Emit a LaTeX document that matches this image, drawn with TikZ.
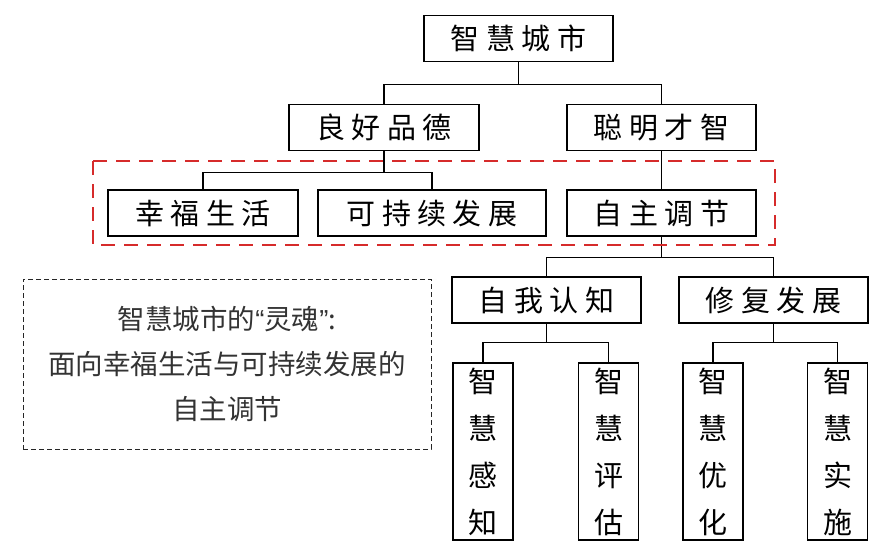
\documentclass[tikz,border=0pt]{standalone}
\usepackage{fontspec}
\usepackage{xcolor}
\usepackage{tikz}
\usetikzlibrary{
  arrows.meta,
  positioning,
  calc
}
\setmainfont{Noto Sans CJK SC}
\newfontfamily\boxfont[LetterSpace=22]{Noto Sans CJK SC}
\newfontfamily\quotefont{Liberation Sans}
\definecolor{scZone}{HTML}{D62B2B}
\definecolor{scNote}{HTML}{333333}
\tikzset{
  scnode/.style={
    draw, line width=1.3pt, minimum height=46pt, inner sep=0pt,
    font=\boxfont\fontsize{29}{34}\selectfont, align=center
  },
  wide/.style={scnode, minimum width=189pt},
  tall/.style={scnode, minimum width=60pt, minimum height=177pt,
    font=\fontsize{29}{47}\selectfont},
  link/.style={line width=1.3pt},
  zone/.style={draw=scZone, line width=2.6pt, dash pattern=on 14pt off 9pt},
  note/.style={draw=black!85, line width=0.9pt, dash pattern=on 5pt off 3pt,
    minimum width=408pt, minimum height=170pt, align=center,
    font=\fontsize{27.5}{45}\selectfont, text=scNote}
}
\begin{document}
\begin{tikzpicture}[x=1pt, y=-1pt]
  \useasboundingbox (0,0) rectangle (893,558);
  \node[wide] (city) at (518.5,38.5) {智慧城市};
  \node[wide, minimum width=190pt] (moral) at (384,127.5) {良好品德};
  \node[wide] (smart) at (661.5,127.5) {聪明才智};
  \node[wide, minimum width=190pt] (happy) at (203,213) {幸福生活};
  \node[wide, minimum width=228pt] (sustain) at (432,213) {可持续发展};
  \node[wide] (selfreg) at (661.5,213) {自主调节};
  \node[wide] (cognit) at (546.5,300) {自我认知};
  \node[wide] (repair) at (773.5,300) {修复发展};
  \node[tall] (sense) at (483,451.5) {智\\慧\\感\\知};
  \node[tall] (assess) at (608.5,451.5) {智\\慧\\评\\估};
  \node[tall] (optim) at (713,451.5) {智\\慧\\优\\化};
  \node[tall] (impl) at (837.5,451.5) {智\\慧\\实\\施};
  \node[note] (soul) at (227,364)
    {智慧城市的{\quotefont“}灵魂{\quotefont”}:\\面向幸福生活与可持续发展的\\自主调节};

  \draw[link] (city.south) -- ++(0,22) -| (moral.north);
  \draw[link] (city.south) -- ++(0,22) -| (smart.north);
  \draw[link] (moral.south) -- ++(0,21) -| (happy.north);
  \draw[link] (moral.south) -- ++(0,21) -| (sustain.north);
  \draw[link] (smart.south) -- (selfreg.north);
  \draw[link] (selfreg.south) -- ++(0,21) -| (cognit.north);
  \draw[link] (selfreg.south) -- ++(0,21) -| (repair.north);
  \draw[link] (cognit.south) -- ++(0,19) -| (sense.north);
  \draw[link] (cognit.south) -- ++(0,19) -| (assess.north);
  \draw[link] (repair.south) -- ++(0,19) -| (optim.north);
  \draw[link] (repair.south) -- ++(0,19) -| (impl.north);

  \draw[zone] (93,161) rectangle (775,245);
\end{tikzpicture}
\end{document}
